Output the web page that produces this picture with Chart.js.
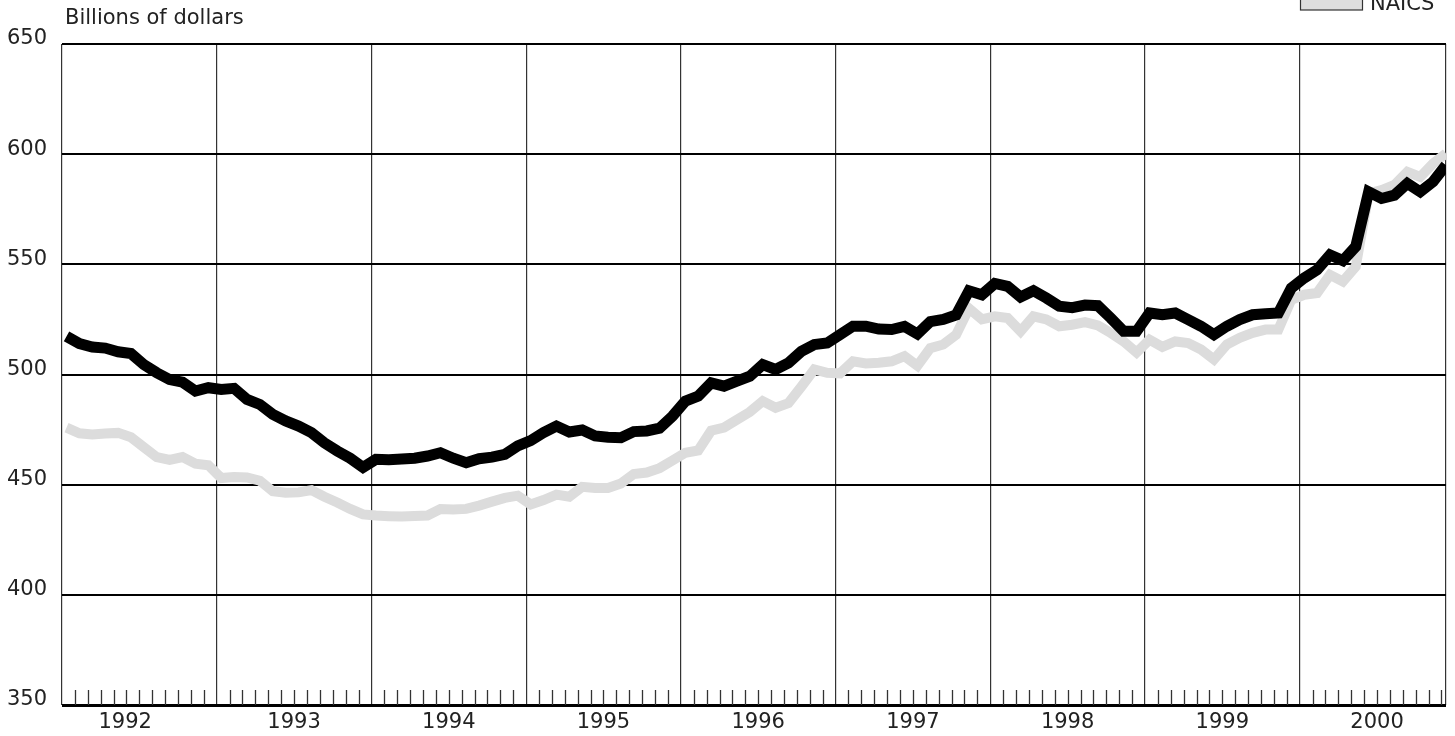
<!DOCTYPE html>
<html>
<head>
<meta charset="utf-8">
<script src="https://cdn.jsdelivr.net/npm/chart.js@4/dist/chart.umd.min.js"></script>
<style>
  html, body { margin: 0; padding: 0; background: #ffffff; }
  #wrap { width: 1455px; height: 736px; position: relative; }
</style>
</head>
<body>
<div id="wrap"><canvas id="c" width="1455" height="736"></canvas></div>
<script>
// ---- Data (monthly, Jan 1992 - Dec 2000), billions of dollars ----
const years = ['1992','1993','1994','1995','1996','1997','1998','1999','2000'];
const yTicks = [350, 400, 450, 500, 550, 600, 650];
const sicValues = [
  517.3, 514, 512.5, 512, 510.3, 509.5, 504.5, 500.8, 497.7, 496.5, 492.5, 494,
  493.2, 493.7, 488.7, 486.4, 481.9, 478.9, 476.6, 473.6, 469, 465.3, 462, 457.8,
  461.5, 461.3, 461.6, 462, 463, 464.5, 462, 460, 461.8, 462.5, 463.8, 467.6,
  470, 473.6, 476.6, 473.9, 474.8, 472.1, 471.5, 471.3, 474.1, 474.4, 475.6, 481.1,
  487.9, 490.2, 496.2, 494.7, 497, 499.2, 504.5, 502.3, 505.3, 510.5, 513.6, 514.3,
  518.1, 521.9, 521.9, 520.6, 520.4, 521.8, 518.4, 524, 525, 527, 538, 536.2,
  541.3, 540, 535.2, 538, 534.7, 531, 530.3, 531.5, 531.2, 525.6, 519.6, 519.6,
  527.9, 527.1, 527.9, 524.9, 521.9, 518.1, 521.9, 524.9, 527.1, 527.6, 527.9, 539.2,
  543.8, 547.5, 554.3, 551.7, 558.1, 582.9, 579.9, 581.4, 586.7, 582.9, 587.5, 595
];
const naicsValues = [
  475.9, 473.3, 472.8, 473.2, 473.5, 471.5, 467, 462.5, 461.2, 462.5, 459.5, 458.8,
  453, 453.5, 453.3, 451.8, 447, 446.3, 446.5, 447.5, 444.5, 441.9, 439, 436.5,
  436, 435.7, 435.5, 435.8, 436, 438.9, 438.7, 439, 440.5, 442.3, 444, 445,
  441, 443, 445.5, 444.5, 449, 448.5, 448.5, 450.5, 454.8, 455.5, 457.5, 461,
  464.5, 465.5, 474.5, 475.9, 479.5, 483, 487.9, 484.9, 487, 494.5, 502.3, 500.8,
  500.5, 506, 505, 505.3, 506, 508.3, 504, 512, 513.6, 518, 530, 525,
  526.4, 525.6, 519.6, 526.4, 525, 521.9, 522.6, 523.8, 522.3, 518.8, 515, 510,
  515.8, 512.5, 515, 514.3, 511.3, 506.8, 513.6, 516.6, 518.9, 520.4, 520.4, 533.9,
  536.2, 537, 545.2, 542.2, 549, 582.2, 583.7, 586, 592, 589.7, 595.8, 600.3
];

const FONT = '"DejaVu Sans", Verdana, sans-serif';
const TEXT = '#222222';
const YEAR_SHIFT = -0.35; // year separators sit just before January

const toPoints = arr => arr.map((v, i) => ({ x: i, y: v }));

const decor = {
  id: 'decor',
  afterDatasetsDraw(chart) {
    const { ctx, chartArea, scales } = chart;
    const xs = scales.x;
    ctx.save();
    // monthly tick marks rising from the base line
    ctx.strokeStyle = '#333333';
    ctx.lineWidth = 1.3;
    ctx.beginPath();
    for (let k = 0; k < years.length; k++) {
      for (let j = 1; j < 12; j++) {
        const v = 12 * k + YEAR_SHIFT + j;
        if (v > xs.max) continue;
        const px = Math.round(xs.getPixelForValue(v)) + 0.5;
        ctx.moveTo(px, chartArea.bottom);
        ctx.lineTo(px, chartArea.bottom - 15);
      }
    }
    ctx.stroke();

    // year labels
    ctx.fillStyle = TEXT;
    ctx.font = '21px ' + FONT;
    ctx.textAlign = 'center';
    ctx.textBaseline = 'alphabetic';
    years.forEach((y, k) => {
      const v = k === 0 ? 4.55 : 12 * k + 5.65;
      ctx.fillText(y, xs.getPixelForValue(v), 728);
    });

    // axis unit title
    ctx.textAlign = 'left';
    ctx.fillText('Billions of dollars', 65, 24);

    // legend (partly outside the top edge)
    ctx.fillStyle = '#dedede';
    ctx.fillRect(1300, -12, 62, 22);
    ctx.strokeStyle = '#333333';
    ctx.lineWidth = 1.2;
    ctx.strokeRect(1300.5, -12, 62, 22);
    ctx.fillStyle = TEXT;
    ctx.fillText('NAICS', 1370, 10);
    ctx.restore();
  }
};

new Chart(document.getElementById('c'), {
  type: 'line',
  data: {
    datasets: [
      {
        label: 'SIC',
        data: toPoints(sicValues),
        borderColor: '#000000',
        borderWidth: 11,
        pointRadius: 0,
        tension: 0,
        borderJoinStyle: 'miter',
        borderCapStyle: 'butt',
        order: 0
      },
      {
        label: 'NAICS',
        data: toPoints(naicsValues),
        borderColor: '#dcdcdc',
        borderWidth: 10,
        pointRadius: 0,
        tension: 0,
        borderJoinStyle: 'miter',
        borderCapStyle: 'butt',
        order: 1
      }
    ]
  },
  options: {
    responsive: false,
    animation: false,
    devicePixelRatio: 1,
    layout: { padding: { top: 44, left: 0, right: 9, bottom: 0 } },
    plugins: {
      legend: { display: false },
      tooltip: { enabled: false },
      title: { display: false }
    },
    scales: {
      x: {
        type: 'linear',
        min: YEAR_SHIFT,
        max: 107,
        afterBuildTicks(scale) {
          const t = years.map((_, k) => ({ value: 12 * k + YEAR_SHIFT }));
          t.push({ value: 107 });
          scale.ticks = t;
        },
        afterFit(scale) { scale.height = 31; },
        ticks: { display: false },
        grid: {
          color: '#333333',
          lineWidth: 1.2,
          drawTicks: false
        },
        border: { display: false }
      },
      y: {
        min: 350,
        max: 650,
        afterBuildTicks(scale) {
          scale.ticks = yTicks.map(v => ({ value: v }));
        },
        afterFit(scale) { scale.width = 62; },
        ticks: {
          color: TEXT,
          font: { family: FONT, size: 21 },
          padding: 15,
          labelOffset: -5
        },
        grid: {
          color: '#000000',
          lineWidth: ctx => (ctx.tick && ctx.tick.value === 350 ? 3 : 2),
          drawTicks: false
        },
        border: { display: false }
      }
    }
  },
  plugins: [decor]
});
</script>
</body>
</html>
